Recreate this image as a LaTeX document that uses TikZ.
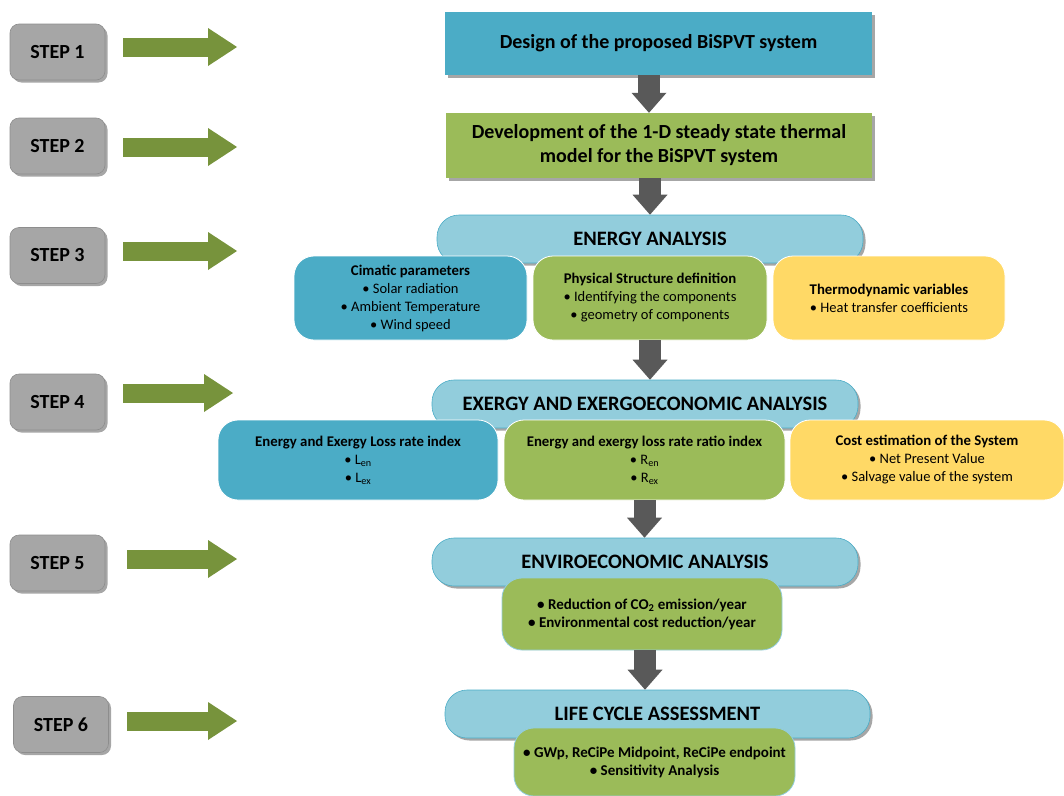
\documentclass[tikz,border=0pt]{standalone}
\usepackage{fontspec}
\setmainfont{Carlito}
\usetikzlibrary{arrows.meta,shadows,calc}
\definecolor{myteal}{HTML}{4BACC6}
\definecolor{mygreen}{HTML}{9BBB59}
\definecolor{mylblue}{HTML}{92CDDC}
\definecolor{myyellow}{HTML}{FFD966}
\definecolor{stepgray}{HTML}{A6A6A6}
\definecolor{arrgreen}{HTML}{77933C}
\definecolor{arrgray}{HTML}{595959}
\begin{document}
\begin{tikzpicture}[x=1pt,y=-1pt,
  shad/.style={drop shadow={shadow xshift=2.5pt,shadow yshift=-2.5pt,opacity=0.35,fill=black}},
  stepbox/.style={shad,rounded corners=9pt,fill=stepgray,draw=stepgray!85!black,line width=0.6pt,
    minimum width=95pt,minimum height=56pt,inner sep=0pt,
    font=\bfseries\fontsize{20}{22}\selectfont},
  mainbox/.style={shad,inner sep=0pt,align=center,text=black,
    font=\bfseries\fontsize{20}{24}\selectfont},
  headbox/.style={shad,rounded corners=22pt,fill=mylblue,draw=myteal,line width=0.6pt,
    minimum width=426pt,minimum height=48pt,inner sep=0pt,
    font=\bfseries\fontsize{20.5}{22}\selectfont},
  subbox/.style={rounded corners=20pt,draw=white,line width=0.8pt,inner sep=0pt,align=center,
    font=\fontsize{14.5}{18}\selectfont},
  greenarrow/.style={draw=arrgreen,line width=19pt,-{Triangle[length=29pt,width=38pt,line width=0pt]}},
  darrow/.style={draw=arrgray,line width=22pt,-{Triangle[length=20pt,width=35pt,line width=0pt]}}
]
\useasboundingbox (0,0) rectangle (1064,795);

% step boxes
\node[stepbox] (s1) at (57.5,52) {STEP 1};
\node[stepbox] (s2) at (57.5,146) {STEP 2};
\node[stepbox] (s3) at (57.5,255.5) {STEP 3};
\node[stepbox] (s4) at (57.5,402) {STEP 4};
\node[stepbox] (s5) at (57.5,563) {STEP 5};
\node[stepbox] (s6) at (61,724.5) {STEP 6};

% green arrows
\coordinate (a1s) at (123,47);  \coordinate (a1e) at (237,47);
\coordinate (a2s) at (123,147); \coordinate (a2e) at (237,147);
\coordinate (a3s) at (123,251); \coordinate (a3e) at (237,251);
\coordinate (a4s) at (123,393); \coordinate (a4e) at (233,393);
\coordinate (a5s) at (127,559); \coordinate (a5e) at (237,559);
\coordinate (a6s) at (127,721); \coordinate (a6e) at (237,721);
\foreach \i in {1,...,6} {\draw[greenarrow] (a\i s) -- (a\i e);}

% main boxes
\node[mainbox,fill=myteal,minimum width=427pt,minimum height=63pt] (design) at (658.5,43.5)
  {Design of the proposed BiSPVT system};
\node[mainbox,fill=mygreen,minimum width=426pt,minimum height=65pt] (model) at (659,145.5)
  {Development of the 1-D steady state thermal\\model for the BiSPVT system};

% energy analysis
\node[headbox] (energy) at (650,239) {ENERGY ANALYSIS};
\node[subbox,fill=myteal,minimum width=233pt,minimum height=84pt] (cim) at (410.5,298)
  {{\bfseries\fontsize{14.8}{18}\selectfont Cimatic parameters}\\\textbullet\ Solar radiation\\\textbullet\ Ambient Temperature\\\textbullet\ Wind speed};
\node[subbox,fill=mygreen,minimum width=234pt,minimum height=84pt] (phys) at (650,298)
  {{\bfseries\fontsize{14.8}{18}\selectfont Physical Structure definition}\\\textbullet\ Identifying the components\\\textbullet\ geometry of components};
\node[subbox,fill=myyellow,minimum width=232pt,minimum height=84pt] (thermo) at (889,298)
  {{\bfseries\fontsize{14.8}{18}\selectfont Thermodynamic variables}\\\textbullet\ Heat transfer coefficients};

% exergy
\node[headbox] (exergy) at (645,404) {EXERGY AND EXERGOECONOMIC ANALYSIS};
\node[subbox,fill=myteal,minimum width=280pt,minimum height=80pt] (loss) at (358,460)
  {{\bfseries\fontsize{14.8}{18}\selectfont Energy and Exergy Loss rate index}\\\textbullet\ L\textsubscript{en}\\\textbullet\ L\textsubscript{ex}};
\node[subbox,fill=mygreen,minimum width=281pt,minimum height=80pt] (ratio) at (644.5,460)
  {{\bfseries\fontsize{14.8}{18}\selectfont Energy and exergy loss rate ratio index}\\\textbullet\ R\textsubscript{en}\\\textbullet\ R\textsubscript{ex}};
\node[subbox,fill=myyellow,minimum width=274pt,minimum height=80pt] (cost) at (927,460)
  {{\bfseries\fontsize{14.8}{18}\selectfont Cost estimation of the System}\\\textbullet\ Net Present Value\\\textbullet\ Salvage value of the system};

% enviroeconomic
\node[headbox] (enviro) at (645,562) {ENVIROECONOMIC ANALYSIS};
\node[subbox,fill=mygreen,draw=myteal!60,minimum width=280pt,minimum height=72pt,font=\bfseries\fontsize{15}{18}\selectfont] (env) at (642,614)
  {\textbullet\ Reduction of CO\textsubscript{2} emission/year\\\textbullet\ Environmental cost reduction/year};

% life cycle
\node[headbox,minimum width=425pt] (lca) at (657.5,714) {LIFE CYCLE ASSESSMENT};
\node[subbox,fill=mygreen,draw=myteal!60,minimum width=281pt,minimum height=68pt,font=\bfseries\fontsize{15}{18}\selectfont] (lcab) at (654.5,762)
  {\textbullet\ GWp, ReCiPe Midpoint, ReCiPe endpoint\\\textbullet\ Sensitivity Analysis};

% dark arrows
\draw[darrow] ([xshift=-9.5pt]design.south) -- ([xshift=-10pt]model.north);
\draw[darrow] ([xshift=-9pt]model.south) -- (energy.north);
\draw[darrow] (phys.south) -- (phys.south |- exergy.north);
\draw[darrow] (ratio.south) -- (ratio.south |- enviro.north);
\draw[darrow] ([xshift=3pt]env.south) -- ([xshift=-12.5pt]lca.north);
\end{tikzpicture}
\end{document}
